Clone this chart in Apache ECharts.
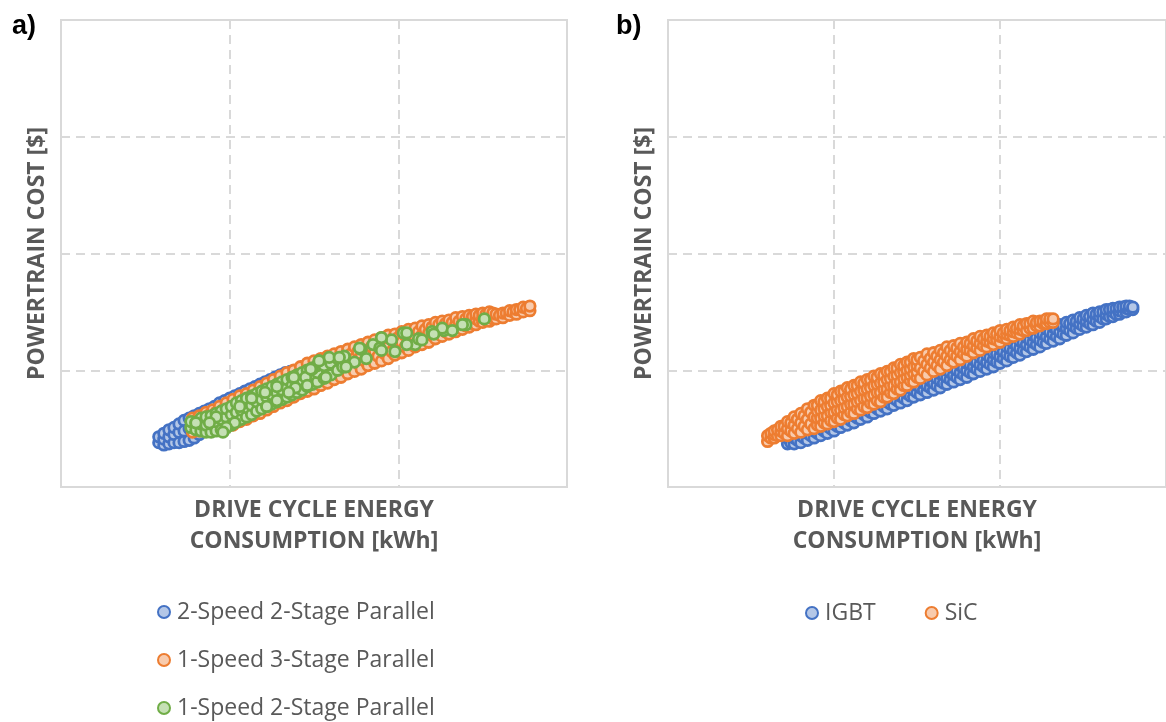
<!DOCTYPE html>
<html><head><meta charset="utf-8">
<script src="https://cdn.jsdelivr.net/npm/echarts@6/dist/echarts.min.js"></script>
<style>html,body{margin:0;padding:0;background:#fff}#c{width:1166px;height:722px}</style>
</head><body><div id="c"></div>
<script>
// Panel a series names
const namesA = ['2-Speed 2-Stage Parallel', '1-Speed 3-Stage Parallel', '1-Speed 2-Stage Parallel'];
// Panel b series names
const namesB = ['IGBT', 'SiC'];
const xTitle = 'DRIVE CYCLE ENERGY\nCONSUMPTION [kWh]';
const yTitle = 'POWERTRAIN COST [$]';

// a) 2-Speed 2-Stage Parallel (relative energy, relative cost)
const aBlue = [[58,38],[58,43],[61,36],[61,41],[61,46],[64,37],[64,43],[64,49],[67,38],[67,45],[67,51],[70,38],[70,47],[70,54],
[73,39],[73,48],[73,57],[76,40],[76,50],[76,59],[79,42],[79,52],[79,61],[82,45],[82,54],[82,63],[85,48],[85,57],[85,65],
[88,51],[88,60],[88,67],[91,54],[91,62],[91,69],[94,57],[94,65],[94,72],[97,60],[97,67],[97,74],[100,63],[100,70],[100,76],
[103,66],[103,72],[103,78],[106,68],[106,74],[106,80],[109,70],[109,76],[109,82],[112,73],[112,79],[112,84],[115,75],[115,81],[115,86],
[118,78],[118,83],[118,88],[121,80],[121,85],[121,90],[124,82],[124,87],[124,92],[127,85],[127,89],[127,94],[130,87],[130,91],[130,96],
[133,89],[133,93],[133,98],[136,91],[136,95],[136,99],[139,94],[139,98]];

// a) 1-Speed 3-Stage Parallel
const aOrange = [[78,47],[78,53],[78,59],[80,51],[80,57],[82,48],[82,55],[82,61],[84,52],[84,60],[86,49],[86,57],[86,64],[88,54],[88,62],[90,50],[90,59],[90,66],
[92,55],[92,64],[94,51],[94,61],[94,69],[96,57],[96,66],[98,52],[98,62],[98,72],[100,58],[100,68],[102,53],[102,64],[102,75],[104,60],[104,71],
[106,56],[106,67],[106,78],[108,62],[108,74],[110,58],[110,69],[110,80],[112,65],[112,76],[114,61],[114,72],[114,83],[116,68],[116,79],
[118,63],[118,75],[118,86],[120,70],[120,82],[122,66],[122,77],[122,89],[124,73],[124,84],[126,69],[126,80],[126,92],[128,76],[128,87],
[130,72],[130,83],[130,95],[132,78],[132,90],[134,74],[134,86],[134,98],[136,82],[136,93],[138,77],[138,89],[138,100],[140,84],[140,96],
[142,80],[142,91],[142,103],[144,87],[144,98],[146,82],[146,94],[146,106],[148,89],[148,101],[150,84],[150,96],[150,108],[152,91],[152,103],
[154,87],[154,98],[154,110],[156,94],[156,105],[158,89],[158,101],[158,112],[160,96],[160,108],[162,92],[162,103],[162,114],[164,98],[164,110],
[166,94],[166,105],[166,116],[168,101],[168,112],[170,97],[170,108],[170,118],[172,104],[172,114],[174,99],[174,110],[174,120],[176,106],[176,116],
[178,101],[178,112],[178,122],[180,108],[180,118],[182,104],[182,114],[182,124],[184,110],[184,120],[186,106],[186,116],[186,126],[188,112],[188,122],
[190,108],[190,118],[190,128],[192,114],[192,124],[194,110],[194,120],[194,130],[196,116],[196,126],[198,113],[198,122],[198,131],[200,118],[200,128],
[202,115],[202,124],[202,133],[204,120],[204,130],[206,117],[206,126],[206,135],[208,123],[208,131],[210,120],[210,128],[210,136],[212,125],[212,133],
[214,122],[214,130],[214,138],[216,127],[216,135],[218,124],[218,132],[218,139],[220,130],[220,137],[222,127],[222,134],[222,141],[224,131],[224,139],
[226,129],[226,136],[226,142],[228,133],[228,140],[230,131],[230,137],[230,143],[232,135],[232,141],[234,133],[234,139],[234,145],[236,137],[236,142],
[238,135],[238,140],[238,146],[240,138],[240,144],[242,137],[242,142],[242,147],[244,140],[244,146],[246,139],[246,144],[246,148],[248,142],[248,147],
[250,141],[250,145],[250,149],[252,143],[252,148],[254,142],[254,146],[254,150],[256,144],[256,149],[258,144],[258,148],[260,147],[262,145],[262,149],
[264,149],[266,147],[266,151],[268,150],[270,148],[270,152],[272,152],[274,150],[274,154],[276,153],[278,151],[278,155]];

// a) 1-Speed 2-Stage Parallel
const aGreen = [[77,51],[77,56],[80,49],[80,55],[83,48],[83,54],[83,59],[86,47],[86,53],[86,60],[89,47],[89,54],[89,61],[92,48],[92,56],[92,63],
[95,49],[95,58],[95,65],[98,51],[98,60],[98,67],[101,53],[101,62],[101,69],[104,56],[104,64],[104,72],[107,58],[107,66],[107,74],
[110,60],[110,68],[110,76],[113,62],[113,70],[113,78],[116,65],[116,73],[116,80],[119,67],[119,75],[119,82],[122,69],[122,77],[122,84],
[125,71],[125,79],[125,86],[128,73],[128,81],[128,88],[131,75],[131,83],[131,90],[134,77],[134,85],[134,92],[137,79],[137,87],[137,94],
[140,81],[140,89],[140,96],[143,83],[143,91],[143,98],[146,86],[146,94],[146,100],[149,88],[149,96],[149,102],[152,90],[152,98],[152,104],
[156,93],[156,104],[160,96],[160,106],[164,100],[164,110],[168,103],[168,112],
[185,122],[174,107],[196,126],[210,122],[227,134],[189,119],[178,118],[167,103],[153,108],[159,111],[149,101],[145,94],[138,94],[139,85],
[203,132],[212,127],[220,133],[226,136],[240,139],[251,144],[238,139],[232,134],[221,131],[214,126],[205,132],[205,122],[198,116],[190,128],[190,117],
[181,110],[177,119],[169,103],[165,111],[157,94],[153,108],[148,101],[146,87],[138,94],[135,81],[128,86],[128,74],[121,81],[122,69],[113,76],
[106,69],[103,55],[98,51],[92,60],[88,55],[80,55],[96,47]];

// b) IGBT
const bBlue = [[72,37],[72,42],[74,38],[74,43],[76,37],[76,42],[76,47],[78,40],[78,46],[80,38],[80,44],[80,50],[82,42],[82,48],[84,40],[84,46],[84,52],
[86,44],[86,50],[88,42],[88,48],[88,54],[90,46],[90,52],[92,44],[92,50],[92,56],[94,48],[94,54],[96,46],[96,52],[96,58],[98,50],[98,56],
[100,48],[100,54],[100,60],[102,52],[102,59],[104,51],[104,57],[104,63],[106,55],[106,61],[108,53],[108,59],[108,65],[110,57],[110,63],
[112,55],[112,61],[112,67],[114,59],[114,66],[116,58],[116,64],[116,70],[118,62],[118,68],[120,60],[120,66],[120,72],[122,64],[122,71],
[124,63],[124,69],[124,75],[126,67],[126,73],[128,65],[128,71],[128,77],[130,69],[130,75],[132,67],[132,73],[132,79],[134,71],[134,78],
[136,70],[136,76],[136,82],[138,74],[138,80],[140,72],[140,78],[140,84],[142,76],[142,82],[144,74],[144,80],[144,86],[146,78],[146,85],
[148,77],[148,83],[148,89],[150,81],[150,87],[152,79],[152,85],[152,91],[154,83],[154,89],[156,81],[156,87],[156,93],[158,85],[158,91],
[160,83],[160,89],[160,95],[162,87],[162,93],[164,85],[164,91],[164,97],[166,89],[166,96],[168,88],[168,94],[168,100],[170,92],[170,98],
[172,90],[172,96],[172,102],[174,94],[174,100],[176,92],[176,98],[176,104],[178,96],[178,102],[180,94],[180,100],[180,106],[182,98],[182,105],
[184,97],[184,103],[184,109],[186,101],[186,107],[188,99],[188,105],[188,111],[190,103],[190,109],[192,101],[192,107],[192,113],[194,105],[194,111],
[196,103],[196,109],[196,115],[198,107],[198,114],[200,106],[200,112],[200,118],[202,110],[202,116],[204,108],[204,114],[204,120],[206,112],[206,119],
[208,111],[208,117],[208,123],[210,115],[210,121],[212,113],[212,119],[212,125],[214,117],[214,124],[216,116],[216,122],[216,128],[218,120],[218,126],
[220,118],[220,124],[220,130],[222,122],[222,128],[224,120],[224,126],[224,132],[226,124],[226,131],[228,123],[228,129],[228,135],[230,127],[230,133],
[232,125],[232,131],[232,137],[234,129],[234,135],[236,127],[236,133],[236,139],[238,131],[238,138],[240,130],[240,136],[240,141],[242,134],[242,140],
[244,132],[244,138],[244,143],[246,136],[246,142],[248,135],[248,140],[248,145],[250,138],[250,144],[252,137],[252,142],[252,147],[254,140],[254,146],
[256,139],[256,144],[256,149],[258,142],[258,148],[260,141],[260,146],[260,150],[262,144],[262,150],[264,144],[264,148],[264,152],[266,146],[266,152],
[268,146],[268,150],[268,153],[270,148],[270,153],[272,148],[272,151],[272,154],[274,150],[274,154],[276,150],[276,153],[276,155],[278,152],[278,155],
[280,152],[280,154]];

// b) SiC
const bOrange = [[60,39],[60,44],[62,42],[62,46],[64,42],[64,45],[64,48],[66,44],[66,49],[68,44],[68,48],[68,52],[70,46],[70,52],[72,44],[72,50],[72,56],
[74,48],[74,55],[76,46],[76,53],[76,60],[78,50],[78,58],[80,47],[80,55],[80,63],[82,52],[82,61],[84,49],[84,58],[84,67],[86,54],[86,64],
[88,50],[88,60],[88,70],[90,53],[90,59],[90,65],[90,70],[92,52],[92,59],[92,66],[92,74],[94,55],[94,61],[94,67],[94,73],[96,54],[96,61],[96,69],[96,76],
[98,57],[98,64],[98,70],[98,76],[100,56],[100,64],[100,72],[100,80],[102,59],[102,66],[102,73],[102,79],[104,58],[104,66],[104,74],[104,82],
[106,62],[106,68],[106,75],[106,82],[108,61],[108,69],[108,77],[108,85],[110,64],[110,71],[110,78],[110,84],[112,63],[112,71],[112,79],[112,87],
[114,67],[114,73],[114,80],[114,87],[116,66],[116,74],[116,82],[116,90],[118,69],[118,76],[118,83],[118,89],[120,68],[120,76],[120,84],[120,92],
[122,72],[122,78],[122,85],[122,92],[124,71],[124,79],[124,87],[124,95],[126,74],[126,81],[126,88],[126,94],[128,73],[128,81],[128,89],[128,97],
[130,77],[130,84],[130,90],[130,96],[132,77],[132,84],[132,92],[132,99],[134,81],[134,87],[134,93],[134,99],[136,80],[136,87],[136,95],[136,102],
[138,84],[138,90],[138,96],[138,102],[140,83],[140,90],[140,98],[140,105],[142,87],[142,93],[142,99],[142,104],[144,87],[144,94],[144,100],[144,107],
[146,91],[146,96],[146,101],[146,107],[148,90],[148,97],[148,103],[148,110],[150,94],[150,99],[150,104],[150,109],[152,93],[152,102],[152,111],
[154,99],[154,108],[156,96],[156,105],[156,114],[158,102],[158,110],[160,99],[160,107],[160,115],[162,104],[162,112],[164,101],[164,109],[164,117],
[166,107],[166,115],[168,104],[168,112],[168,120],[170,109],[170,117],[172,107],[172,114],[172,121],[174,112],[174,119],[176,109],[176,116],[176,123],
[178,114],[178,120],[180,112],[180,118],[180,124],[182,117],[182,123],[184,115],[184,121],[184,127],[186,119],[186,125],[188,117],[188,123],[188,129],
[190,121],[190,127],[192,120],[192,125],[192,130],[194,124],[194,129],[196,122],[196,127],[196,132],[198,126],[198,131],[200,124],[200,129],[200,134],
[202,128],[202,132],[204,127],[204,131],[204,135],[206,130],[206,134],[208,129],[208,133],[208,137],[210,132],[210,136],[212,131],[212,135],[212,139],
[214,134],[214,138],[216,134],[216,140],[218,136],[218,140],[220,136],[220,142],[222,138],[222,141],[224,138],[224,142],[226,140],[226,142],
[228,140],[228,144],[230,141],[230,144],[232,141],[232,144]];

const BLUE = '#4472C4', BLUE_F = '#B4C7E7';
const ORANGE = '#ED7D31', ORANGE_F = '#F8CBAD';
const GREEN = '#70AD47', GREEN_F = '#C5E0B4';
const FONT = 'Open Sans';
const gridCol = '#D9D9D9';

function sc(name, data, xi, stroke, fill) {
  return {
    name, type: 'scatter', xAxisIndex: xi, yAxisIndex: xi, data,
    symbol: 'circle', symbolSize: 10.5,
    itemStyle: { color: fill, borderColor: stroke, borderWidth: 2.8, opacity: 1 },
    emphasis: { disabled: true }
  };
}
function xAx(gi) {
  return {
    gridIndex: gi, type: 'value', min: 0, max: 300, interval: 100,
    axisLine: { show: false }, axisTick: { show: false }, axisLabel: { show: false },
    splitLine: { show: true, lineStyle: { color: gridCol, width: 2, type: [9, 6] } },
    name: xTitle, nameLocation: 'middle', nameGap: 8,
    nameTextStyle: { fontFamily: FONT, fontWeight: 'bold', fontSize: 23, color: '#595959', lineHeight: 31, verticalAlign: 'top' }
  };
}
function yAx(gi) {
  return {
    gridIndex: gi, type: 'value', min: 0, max: 400, interval: 100,
    axisLine: { show: false }, axisTick: { show: false }, axisLabel: { show: false },
    splitLine: { show: true, lineStyle: { color: gridCol, width: 2, type: [9, 6] } },
    name: yTitle, nameLocation: 'middle', nameGap: 12,
    nameTextStyle: { fontFamily: FONT, fontWeight: 'bold', fontSize: 23, color: '#595959' }
  };
}
function leg(data, left, top, gap) {
  return { data, orient: 'horizontal', left, top, padding: 0, itemWidth: 16, itemHeight: 12, itemGap: gap,
    icon: 'circle', textStyle: { fontFamily: FONT, fontSize: 23, color: '#595959', lineHeight: 24 } };
}

const chart = echarts.init(document.getElementById('c'), null, { renderer: 'canvas' });
chart.setOption({
  animation: false,
  backgroundColor: '#fff',
  title: [
    { text: 'a)', left: 7, top: 8, textStyle: { fontFamily: 'Liberation Sans', fontWeight: 'bold', fontSize: 27, color: '#000' } },
    { text: 'b)', left: 611, top: 8, textStyle: { fontFamily: 'Liberation Sans', fontWeight: 'bold', fontSize: 27, color: '#000' } }
  ],
  grid: [
    { left: 61, top: 20, width: 506, height: 467, show: true, borderColor: gridCol, borderWidth: 2 },
    { left: 668, top: 20, width: 507, height: 467, show: true, borderColor: gridCol, borderWidth: 2 }
  ],
  xAxis: [xAx(0), xAx(1)],
  yAxis: [yAx(0), yAx(1)],
  legend: [
    leg([namesA[0]], 157, 600, 10),
    leg([namesA[1]], 157, 648, 10),
    leg([namesA[2]], 157, 696, 10),
    leg(namesB, 805, 601, 49)
  ],
  series: [
    sc(namesA[0], aBlue, 0, BLUE, BLUE_F),
    sc(namesA[1], aOrange, 0, ORANGE, ORANGE_F),
    sc(namesA[2], aGreen, 0, GREEN, GREEN_F),
    sc(namesB[0], bBlue, 1, BLUE, BLUE_F),
    sc(namesB[1], bOrange, 1, ORANGE, ORANGE_F)
  ]
});
</script>
</body></html>
